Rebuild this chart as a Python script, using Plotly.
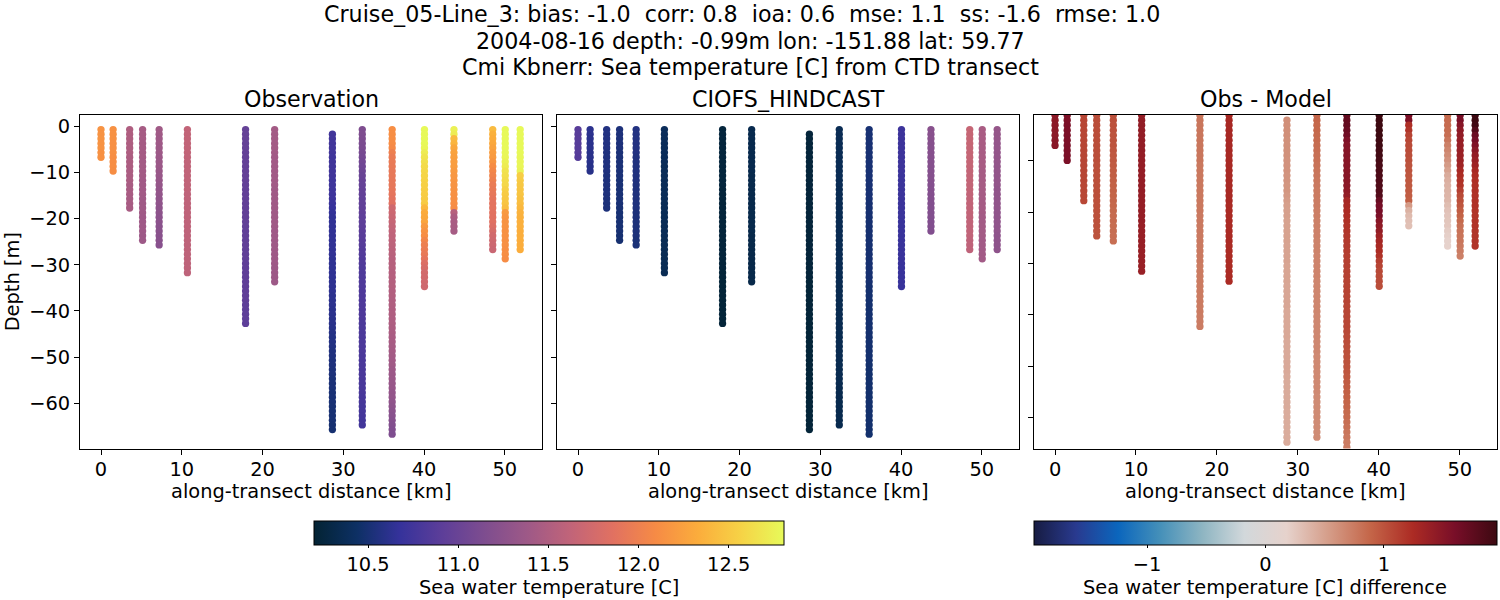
import plotly.graph_objects as go

# Title lines and panel names
title_lines = [
    "Cruise_05-Line_3: bias: -1.0  corr: 0.8  ioa: 0.6  mse: 1.1  ss: -1.6  rmse: 1.0",
    "2004-08-16 depth: -0.99m lon: -151.88 lat: 59.77",
    "Cmi Kbnerr: Sea temperature [C] from CTD transect",
]
panel_names = ["Observation", "CIOFS_HINDCAST", "Obs - Model"]

# Along-transect position of each cast [km]
cast_km = [0.0, 1.5, 3.55, 5.15, 7.2, 10.7, 17.9, 21.5, 28.65, 32.35, 36.05, 40.05, 43.7, 48.5, 50.05, 51.9]
# Index of the first depth level of each cast
cast_start = [0, 0, 0, 0, 0, 0, 0, 0, 1, 0, 0, 0, 0, 0, 0, 0]

depth_levels = [
    -0.7, -1.7, -2.7, -3.7, -4.7, -5.7, -6.7, -7.7, -8.7, -9.7,
    -10.7, -11.7, -12.7, -13.7, -14.7, -15.7, -16.7, -17.7, -18.7, -19.7,
    -20.7, -21.7, -22.7, -23.7, -24.7, -25.7, -26.7, -27.7, -28.7, -29.7,
    -30.7, -31.7, -32.7, -33.7, -34.7, -35.7, -36.7, -37.7, -38.7, -39.7,
    -40.7, -41.7, -42.7, -43.7, -44.7, -45.7, -46.7, -47.7, -48.7, -49.7,
    -50.7, -51.7, -52.7, -53.7, -54.7, -55.7, -56.7, -57.7, -58.7, -59.7,
    -60.7, -61.7, -62.7, -63.7, -64.7, -65.7, -66.7,
]

# Observed temperature per cast [C]
obs_temp = [
    [12.15, 12.15, 12.16, 12.15, 12.15, 12.14, 12.14],
    [12.14, 12.14, 12.14, 12.13, 12.13, 12.13, 12.12, 12.12, 12.12, 12.11],
    [11.5, 11.5, 11.5, 11.49, 11.49, 11.49, 11.48, 11.48, 11.48, 11.47,
     11.47, 11.47, 11.46, 11.46, 11.46, 11.45, 11.45, 11.45],
    [11.44, 11.44, 11.44, 11.43, 11.43, 11.43, 11.43, 11.42, 11.42, 11.42,
     11.42, 11.41, 11.41, 11.41, 11.41, 11.4, 11.4, 11.4, 11.4, 11.39,
     11.39, 11.39, 11.39, 11.38, 11.38],
    [11.4, 11.4, 11.39, 11.39, 11.38, 11.38, 11.37, 11.36, 11.36, 11.35,
     11.34, 11.33, 11.32, 11.31, 11.3, 11.29, 11.28, 11.27, 11.26, 11.25,
     11.25, 11.24, 11.24, 11.23, 11.23, 11.22],
    [11.63, 11.63, 11.63, 11.63, 11.63, 11.63, 11.62, 11.62, 11.62, 11.62,
     11.62, 11.62, 11.62, 11.62, 11.61, 11.61, 11.61, 11.61, 11.61, 11.61,
     11.61, 11.61, 11.6, 11.6, 11.6, 11.6, 11.6, 11.6, 11.6, 11.6,
     11.6, 11.6],
    [10.97, 10.97, 10.97, 10.97, 10.97, 10.96, 10.96, 10.96, 10.96, 10.96,
     10.96, 10.96, 10.95, 10.95, 10.95, 10.95, 10.95, 10.95, 10.95, 10.95,
     10.95, 10.94, 10.94, 10.94, 10.94, 10.94, 10.94, 10.94, 10.94, 10.93,
     10.93, 10.93, 10.93, 10.93, 10.93, 10.93, 10.93, 10.93, 10.92, 10.92,
     10.92, 10.92, 10.92],
    [11.42, 11.42, 11.42, 11.42, 11.42, 11.42, 11.41, 11.41, 11.41, 11.41,
     11.41, 11.41, 11.41, 11.4, 11.4, 11.4, 11.4, 11.4, 11.4, 11.4,
     11.4, 11.4, 11.39, 11.39, 11.39, 11.39, 11.39, 11.39, 11.39, 11.39,
     11.38, 11.38, 11.38, 11.38],
    [10.75, 10.75, 10.75, 10.75, 10.75, 10.74, 10.74, 10.74, 10.74, 10.74,
     10.73, 10.73, 10.73, 10.72, 10.72, 10.7, 10.68, 10.66, 10.65, 10.65,
     10.65, 10.65, 10.65, 10.65, 10.65, 10.65, 10.65, 10.64, 10.64, 10.64,
     10.64, 10.64, 10.63, 10.63, 10.63, 10.62, 10.62, 10.62, 10.61, 10.61,
     10.6, 10.6, 10.59, 10.58, 10.57, 10.57, 10.56, 10.55, 10.55, 10.54,
     10.54, 10.53, 10.53, 10.52, 10.52, 10.52, 10.51, 10.51, 10.51, 10.5,
     10.5, 10.5, 10.5, 10.49, 10.49],
    [11.15, 11.15, 11.14, 11.13, 11.12, 11.1, 11.08, 11.06, 11.04, 11.02,
     11.0, 10.98, 10.97, 10.96, 10.95, 10.94, 10.94, 10.93, 10.93, 10.92,
     10.92, 10.91, 10.9, 10.89, 10.88, 10.87, 10.86, 10.85, 10.84, 10.84,
     10.83, 10.83, 10.83, 10.83, 10.83, 10.82, 10.82, 10.82, 10.82, 10.82,
     10.82, 10.82, 10.81, 10.81, 10.81, 10.81, 10.81, 10.81, 10.81, 10.8,
     10.8, 10.8, 10.8, 10.8, 10.8, 10.79, 10.79, 10.79, 10.78, 10.78,
     10.77, 10.77, 10.76, 10.75, 10.75],
    [12.12, 12.12, 12.12, 12.1, 12.08, 12.0, 11.96, 11.95, 11.94, 11.93,
     11.93, 11.92, 11.92, 11.91, 11.9, 11.88, 11.85, 11.72, 11.7, 11.68,
     11.66, 11.64, 11.62, 11.61, 11.6, 11.59, 11.58, 11.57, 11.56, 11.55,
     11.55, 11.54, 11.54, 11.53, 11.53, 11.52, 11.52, 11.51, 11.51, 11.5,
     11.5, 11.49, 11.49, 11.48, 11.47, 11.46, 11.45, 11.44, 11.43, 11.42,
     11.41, 11.4, 11.38, 11.37, 11.36, 11.34, 11.33, 11.31, 11.3, 11.28,
     11.26, 11.24, 11.22, 11.2, 11.18, 11.16, 11.15],
    [12.8, 12.8, 12.8, 12.8, 12.78, 12.72, 12.68, 12.65, 12.62, 12.6,
     12.58, 12.57, 12.55, 12.54, 12.53, 12.52, 12.52, 12.4, 12.32, 12.3,
     12.28, 12.2, 12.15, 12.12, 12.05, 12.0, 11.97, 11.94, 11.9, 11.82,
     11.78, 11.75, 11.74, 11.73, 11.72],
    [12.75, 12.72, 12.42, 12.38, 12.3, 12.26, 12.24, 12.23, 12.22, 12.2,
     12.18, 12.17, 12.16, 12.15, 12.14, 12.13, 12.12, 12.1, 11.55, 11.48,
     11.46, 11.45, 11.44],
    [12.42, 12.36, 12.33, 12.3, 12.26, 12.22, 12.2, 12.16, 12.1, 12.06,
     12.03, 12.0, 11.96, 11.94, 11.92, 11.9, 11.88, 11.88, 11.87, 11.86,
     11.85, 11.82, 11.78, 11.74, 11.72, 11.7, 11.68],
    [12.8, 12.8, 12.8, 12.8, 12.8, 12.79, 12.78, 12.75, 12.72, 12.67,
     12.64, 12.62, 12.6, 12.56, 12.52, 12.5, 12.48, 12.44, 12.2, 12.17,
     12.15, 12.15, 12.14, 12.14, 12.13, 12.13, 12.12, 12.12, 12.1],
    [12.8, 12.8, 12.8, 12.8, 12.8, 12.8, 12.79, 12.78, 12.78, 12.76,
     12.54, 12.52, 12.5, 12.49, 12.48, 12.46, 12.44, 12.4, 12.37, 12.36,
     12.35, 12.35, 12.34, 12.34, 12.34, 12.33, 12.33],
]

# Hindcast temperature per cast [C]
model_temp = [
    [10.88, 10.88, 10.88, 10.87, 10.87, 10.87, 10.86],
    [10.62, 10.62, 10.61, 10.61, 10.61, 10.6, 10.6, 10.6, 10.59, 10.59],
    [10.56, 10.56, 10.56, 10.56, 10.56, 10.55, 10.55, 10.55, 10.55, 10.55,
     10.54, 10.54, 10.54, 10.54, 10.54, 10.53, 10.53, 10.53],
    [10.53, 10.53, 10.53, 10.53, 10.53, 10.52, 10.52, 10.52, 10.52, 10.52,
     10.52, 10.51, 10.51, 10.51, 10.51, 10.51, 10.51, 10.5, 10.5, 10.5,
     10.5, 10.5, 10.5, 10.49, 10.49],
    [10.56, 10.56, 10.56, 10.56, 10.56, 10.56, 10.55, 10.55, 10.55, 10.55,
     10.55, 10.55, 10.54, 10.54, 10.54, 10.54, 10.54, 10.54, 10.53, 10.53,
     10.53, 10.53, 10.53, 10.53, 10.52, 10.52],
    [10.39, 10.39, 10.39, 10.39, 10.39, 10.39, 10.39, 10.39, 10.38, 10.38,
     10.38, 10.38, 10.38, 10.38, 10.38, 10.38, 10.37, 10.37, 10.37, 10.37,
     10.37, 10.37, 10.37, 10.37, 10.36, 10.36, 10.36, 10.36, 10.36, 10.36,
     10.36, 10.36],
    [10.25, 10.25, 10.25, 10.25, 10.25, 10.25, 10.25, 10.25, 10.25, 10.25,
     10.25, 10.25, 10.25, 10.24, 10.24, 10.24, 10.24, 10.24, 10.24, 10.24,
     10.24, 10.24, 10.24, 10.24, 10.24, 10.24, 10.24, 10.24, 10.24, 10.24,
     10.24, 10.23, 10.23, 10.23, 10.23, 10.23, 10.23, 10.23, 10.23, 10.23,
     10.23, 10.23, 10.23],
    [10.33, 10.33, 10.33, 10.33, 10.33, 10.33, 10.33, 10.33, 10.33, 10.33,
     10.32, 10.32, 10.32, 10.32, 10.32, 10.32, 10.32, 10.32, 10.32, 10.32,
     10.32, 10.32, 10.32, 10.31, 10.31, 10.31, 10.31, 10.31, 10.31, 10.31,
     10.31, 10.31, 10.31, 10.31],
    [10.24, 10.24, 10.24, 10.24, 10.24, 10.24, 10.24, 10.24, 10.24, 10.24,
     10.24, 10.24, 10.24, 10.24, 10.24, 10.24, 10.24, 10.24, 10.24, 10.24,
     10.24, 10.24, 10.24, 10.24, 10.24, 10.24, 10.24, 10.24, 10.24, 10.24,
     10.24, 10.24, 10.23, 10.23, 10.23, 10.23, 10.23, 10.23, 10.23, 10.23,
     10.23, 10.23, 10.23, 10.23, 10.23, 10.23, 10.23, 10.23, 10.23, 10.23,
     10.23, 10.23, 10.23, 10.23, 10.23, 10.23, 10.23, 10.23, 10.23, 10.23,
     10.23, 10.23, 10.23, 10.23, 10.23],
    [10.36, 10.36, 10.36, 10.36, 10.36, 10.36, 10.36, 10.36, 10.36, 10.36,
     10.36, 10.36, 10.36, 10.35, 10.35, 10.35, 10.35, 10.35, 10.35, 10.35,
     10.35, 10.35, 10.35, 10.35, 10.35, 10.35, 10.35, 10.35, 10.35, 10.35,
     10.35, 10.35, 10.35, 10.35, 10.34, 10.34, 10.34, 10.34, 10.34, 10.34,
     10.34, 10.34, 10.34, 10.34, 10.34, 10.34, 10.34, 10.34, 10.34, 10.34,
     10.34, 10.34, 10.34, 10.34, 10.34, 10.34, 10.33, 10.33, 10.33, 10.33,
     10.33, 10.33, 10.33, 10.33, 10.33],
    [10.5, 10.5, 10.5, 10.5, 10.5, 10.5, 10.5, 10.5, 10.5, 10.5,
     10.5, 10.5, 10.5, 10.5, 10.5, 10.5, 10.49, 10.49, 10.49, 10.49,
     10.49, 10.49, 10.49, 10.49, 10.49, 10.49, 10.49, 10.49, 10.49, 10.49,
     10.49, 10.49, 10.49, 10.49, 10.48, 10.48, 10.48, 10.48, 10.48, 10.48,
     10.48, 10.48, 10.48, 10.48, 10.48, 10.48, 10.48, 10.48, 10.48, 10.48,
     10.48, 10.47, 10.47, 10.47, 10.47, 10.47, 10.47, 10.47, 10.47, 10.47,
     10.47, 10.47, 10.47, 10.47, 10.47, 10.47, 10.47],
    [10.72, 10.72, 10.72, 10.72, 10.72, 10.72, 10.72, 10.72, 10.72, 10.72,
     10.71, 10.71, 10.71, 10.71, 10.71, 10.71, 10.71, 10.71, 10.71, 10.71,
     10.7, 10.7, 10.7, 10.7, 10.7, 10.7, 10.7, 10.7, 10.7, 10.7,
     10.69, 10.69, 10.69, 10.69, 10.69],
    [11.22, 11.22, 11.22, 11.21, 11.21, 11.21, 11.21, 11.2, 11.2, 11.2,
     11.2, 11.2, 11.19, 11.19, 11.19, 11.19, 11.18, 11.18, 11.18, 11.18,
     11.17, 11.17, 11.17],
    [11.66, 11.66, 11.66, 11.66, 11.65, 11.65, 11.65, 11.65, 11.65, 11.64,
     11.64, 11.64, 11.64, 11.64, 11.63, 11.63, 11.63, 11.63, 11.63, 11.62,
     11.62, 11.62, 11.62, 11.62, 11.61, 11.61, 11.61],
    [11.46, 11.46, 11.46, 11.46, 11.45, 11.45, 11.45, 11.45, 11.45, 11.44,
     11.44, 11.44, 11.44, 11.44, 11.43, 11.43, 11.43, 11.43, 11.43, 11.42,
     11.42, 11.42, 11.42, 11.42, 11.41, 11.41, 11.41, 11.41, 11.41],
    [11.32, 11.32, 11.32, 11.31, 11.31, 11.31, 11.31, 11.31, 11.3, 11.3,
     11.3, 11.3, 11.3, 11.29, 11.29, 11.29, 11.29, 11.29, 11.28, 11.28,
     11.28, 11.28, 11.28, 11.27, 11.27, 11.27, 11.27],
]

# Obs minus model per cast [C]
diff_temp = [
    [1.46, 1.46, 1.47, 1.47, 1.47, 1.48, 1.48],
    [1.56, 1.56, 1.57, 1.57, 1.57, 1.57, 1.58, 1.58, 1.58, 1.58],
    [1.08, 1.08, 1.08, 1.08, 1.08, 1.08, 1.08, 1.08, 1.08, 1.08,
     1.08, 1.08, 1.08, 1.08, 1.07, 1.07, 1.07, 1.07],
    [1.03, 1.03, 1.03, 1.03, 1.03, 1.03, 1.03, 1.03, 1.03, 1.03,
     1.02, 1.02, 1.02, 1.02, 1.02, 1.02, 1.02, 1.01, 1.01, 1.01,
     1.01, 1.01, 1.01, 1.0, 1.0],
    [1.02, 1.02, 1.01, 1.01, 1.0, 1.0, 0.99, 0.98, 0.97, 0.96,
     0.95, 0.94, 0.93, 0.92, 0.91, 0.9, 0.89, 0.88, 0.87, 0.86,
     0.85, 0.85, 0.84, 0.84, 0.83, 0.83],
    [1.42, 1.42, 1.42, 1.42, 1.42, 1.42, 1.42, 1.42, 1.41, 1.41,
     1.41, 1.41, 1.41, 1.41, 1.41, 1.41, 1.4, 1.4, 1.4, 1.4,
     1.4, 1.4, 1.39, 1.39, 1.39, 1.39, 1.39, 1.38, 1.38, 1.38,
     1.38, 1.38],
    [0.78, 0.78, 0.78, 0.78, 0.78, 0.78, 0.78, 0.78, 0.78, 0.78,
     0.77, 0.77, 0.77, 0.77, 0.77, 0.77, 0.77, 0.77, 0.77, 0.77,
     0.76, 0.76, 0.76, 0.76, 0.76, 0.76, 0.76, 0.76, 0.76, 0.76,
     0.75, 0.75, 0.75, 0.75, 0.75, 0.75, 0.75, 0.75, 0.75, 0.75,
     0.74, 0.74, 0.74],
    [1.28, 1.28, 1.28, 1.28, 1.28, 1.28, 1.28, 1.28, 1.27, 1.27,
     1.27, 1.27, 1.27, 1.27, 1.27, 1.27, 1.27, 1.27, 1.26, 1.26,
     1.26, 1.26, 1.26, 1.26, 1.26, 1.26, 1.25, 1.25, 1.25, 1.25,
     1.25, 1.25, 1.25, 1.25],
    [0.62, 0.62, 0.62, 0.62, 0.61, 0.61, 0.61, 0.61, 0.6, 0.6,
     0.6, 0.59, 0.59, 0.58, 0.58, 0.56, 0.54, 0.52, 0.51, 0.51,
     0.5, 0.5, 0.5, 0.5, 0.5, 0.49, 0.49, 0.49, 0.49, 0.48,
     0.48, 0.48, 0.48, 0.47, 0.47, 0.47, 0.47, 0.47, 0.46, 0.46,
     0.46, 0.46, 0.46, 0.46, 0.45, 0.45, 0.45, 0.45, 0.45, 0.45,
     0.45, 0.44, 0.44, 0.44, 0.44, 0.44, 0.44, 0.44, 0.43, 0.43,
     0.43, 0.43, 0.43, 0.43, 0.43],
    [0.88, 0.88, 0.87, 0.87, 0.86, 0.85, 0.84, 0.83, 0.82, 0.81,
     0.8, 0.79, 0.78, 0.77, 0.76, 0.75, 0.75, 0.74, 0.74, 0.73,
     0.73, 0.72, 0.72, 0.71, 0.71, 0.7, 0.7, 0.7, 0.69, 0.69,
     0.69, 0.69, 0.69, 0.68, 0.68, 0.68, 0.68, 0.68, 0.68, 0.68,
     0.67, 0.67, 0.67, 0.67, 0.67, 0.67, 0.67, 0.67, 0.66, 0.66,
     0.66, 0.66, 0.66, 0.66, 0.66, 0.66, 0.65, 0.65, 0.65, 0.65,
     0.65, 0.65, 0.65, 0.65, 0.65],
    [1.72, 1.72, 1.72, 1.68, 1.64, 1.56, 1.52, 1.51, 1.51, 1.5,
     1.5, 1.49, 1.49, 1.48, 1.47, 1.45, 1.42, 1.29, 1.27, 1.25,
     1.23, 1.21, 1.19, 1.18, 1.17, 1.16, 1.15, 1.14, 1.13, 1.12,
     1.12, 1.11, 1.11, 1.1, 1.1, 1.1, 1.09, 1.09, 1.08, 1.08,
     1.08, 1.07, 1.07, 1.06, 1.05, 1.04, 1.03, 1.02, 1.01, 1.0,
     0.99, 0.98, 0.96, 0.95, 0.94, 0.92, 0.91, 0.89, 0.88, 0.86,
     0.85, 0.83, 0.81, 0.79, 0.77, 0.75, 0.74],
    [1.95, 1.95, 1.95, 1.95, 1.95, 1.94, 1.94, 1.92, 1.92, 1.9,
     1.88, 1.87, 1.86, 1.85, 1.84, 1.83, 1.82, 1.7, 1.62, 1.6,
     1.58, 1.5, 1.45, 1.42, 1.35, 1.3, 1.27, 1.24, 1.2, 1.13,
     1.09, 1.06, 1.05, 1.04, 1.03],
    [1.6, 1.55, 1.22, 1.18, 1.1, 1.07, 1.05, 1.04, 1.03, 1.02,
     1.0, 0.99, 0.98, 0.97, 0.96, 0.95, 0.94, 0.92, 0.55, 0.4,
     0.34, 0.31, 0.3],
    [0.86, 0.85, 0.85, 0.84, 0.83, 0.78, 0.72, 0.68, 0.64, 0.6,
     0.55, 0.5, 0.44, 0.41, 0.39, 0.38, 0.37, 0.36, 0.32, 0.29,
     0.27, 0.26, 0.25, 0.22, 0.2, 0.18, 0.17],
    [1.62, 1.58, 1.5, 1.45, 1.42, 1.4, 1.39, 1.38, 1.37, 1.36,
     1.33, 1.28, 1.24, 1.21, 1.19, 1.12, 1.05, 1.02, 0.98, 0.94,
     0.9, 0.86, 0.82, 0.8, 0.79, 0.78, 0.76, 0.74, 0.72],
    [1.95, 1.95, 1.93, 1.82, 1.68, 1.62, 1.55, 1.48, 1.42, 1.38,
     1.34, 1.28, 1.24, 1.22, 1.21, 1.21, 1.2, 1.2, 1.2, 1.19,
     1.19, 1.19, 1.19, 1.18, 1.18, 1.18, 1.18],
]

# Axis ticks and colour ranges
x_ticks = [0, 10, 20, 30, 40, 50]
y_ticks = [0, -10, -20, -30, -40, -50, -60]
# Third panel ticks do not line up with its data scale in the picture, read off by eye
y_ticks_diff = [-9.8, -19.95, -30.1, -40.25, -50.6, -60.7]
temp_range = [10.2, 12.807]
diff_range = [-1.955, 1.955]
temp_cbar_ticks = [10.5, 11.0, 11.5, 12.0, 12.5]
diff_cbar_ticks = [-1, 0, 1]
cbar_titles = ["Sea water temperature [C]", "Sea water temperature [C] difference"]

FONT = "DejaVu Sans"
W, H = 1500, 600
TICK_SIZE = 19.4
TITLE_SIZE = 22.2


def flatten(values):
    xs, ys, cs = [], [], []
    for km, start, cast in zip(cast_km, cast_start, values):
        for i, v in enumerate(cast):
            xs.append(km)
            ys.append(depth_levels[start + i])
            cs.append(v)
    return xs, ys, cs


def colorbar(left, width, ticks, fmt):
    return dict(
        orientation="h", lenmode="pixels", len=width, thicknessmode="pixels", thickness=24,
        x=left / W, xanchor="left", y=1 - 521 / H, yanchor="top", xpad=0, ypad=0,
        outlinecolor="black", outlinewidth=1,
        tickmode="array", tickvals=ticks, tickformat=fmt, ticks="outside", ticklen=3,
        tickcolor="black", tickfont=dict(family=FONT, size=TICK_SIZE, color="black"),
    )


def text_note(text, x_px, y_px, size):
    return dict(text=text, x=x_px / W, y=1 - y_px / H, xref="paper", yref="paper",
                xanchor="center", yanchor="middle", showarrow=False,
                font=dict(family=FONT, size=size, color="black"))


fig = go.Figure()

panels = [
    (obs_temp, "x", "y", "thermal", temp_range, colorbar(314, 470, temp_cbar_ticks, ".1f")),
    (model_temp, "x2", "y2", "thermal", temp_range, None),
    (diff_temp, "x3", "y3", "balance", diff_range, colorbar(1034, 463, diff_cbar_ticks, "d")),
]
for values, xa, ya, scale, rng, cbar in panels:
    xs, ys, cs = flatten(values)
    marker = dict(size=7.3, color=cs, colorscale=scale, cmin=rng[0], cmax=rng[1], line=dict(width=0),
                  showscale=cbar is not None)
    if cbar is not None:
        marker["colorbar"] = cbar
    fig.add_trace(go.Scatter(x=xs, y=ys, mode="markers", marker=marker, xaxis=xa, yaxis=ya, showlegend=False))

axis_style = dict(showline=True, mirror=True, linecolor="black", linewidth=1, ticks="outside", ticklen=5,
                  tickcolor="black", showgrid=False, zeroline=False,
                  tickfont=dict(family=FONT, size=TICK_SIZE, color="black"))
label_font = dict(family=FONT, size=TICK_SIZE, color="black")
panel_px = [(80, 542), (557, 1019), (1034, 1497)]
y_domain = [1 - 448.5 / H, 1 - 115 / H]

layout = dict(
    width=W, height=H, margin=dict(l=0, r=0, t=0, b=0, autoexpand=False),
    paper_bgcolor="white", plot_bgcolor="white", font=dict(family=FONT, color="black"),
)
for i, (left, right) in enumerate(panel_px):
    suffix = "" if i == 0 else str(i + 1)
    layout["xaxis" + suffix] = dict(
        axis_style, domain=[left / W, right / W], range=[-2.6, 54.6], tickmode="array", tickvals=x_ticks,
        ticklabelstandoff=-2, anchor="y" + suffix,
    )
    layout["yaxis" + suffix] = dict(
        axis_style, domain=y_domain, range=[-69.8, 2.45], tickmode="array", tickvals=y_ticks,
        showticklabels=i == 0, anchor="x" + suffix,
    )
layout["yaxis"]["title"] = dict(text="Depth [m]", font=label_font, standoff=4)
# Third panel has its own depth range, its tick labels are hidden
layout["yaxis3"]["range"] = [-66.96, -0.66]
layout["yaxis3"]["tickvals"] = y_ticks_diff

annotations = []
for line, x_px, y_px in zip(title_lines, [742, 750, 750.5], [14, 41, 67]):
    annotations.append(text_note(line, x_px, y_px, TITLE_SIZE))
for name, (left, right) in zip(panel_names, panel_px):
    annotations.append(text_note(name, (left + right) / 2, 99, TITLE_SIZE))
    annotations.append(text_note("along-transect distance [km]", (left + right) / 2, 491, TICK_SIZE))
for title, x_px in zip(cbar_titles, [549, 1265]):
    annotations.append(text_note(title, x_px, 587, TICK_SIZE))
layout["annotations"] = annotations

fig.update_layout(**layout)
# Plotly page keeps the default body margin otherwise, which shifts everything by 8px
fig.write_html("out.html", config={"displayModeBar": False}, post_script="document.body.style.margin='0';")
